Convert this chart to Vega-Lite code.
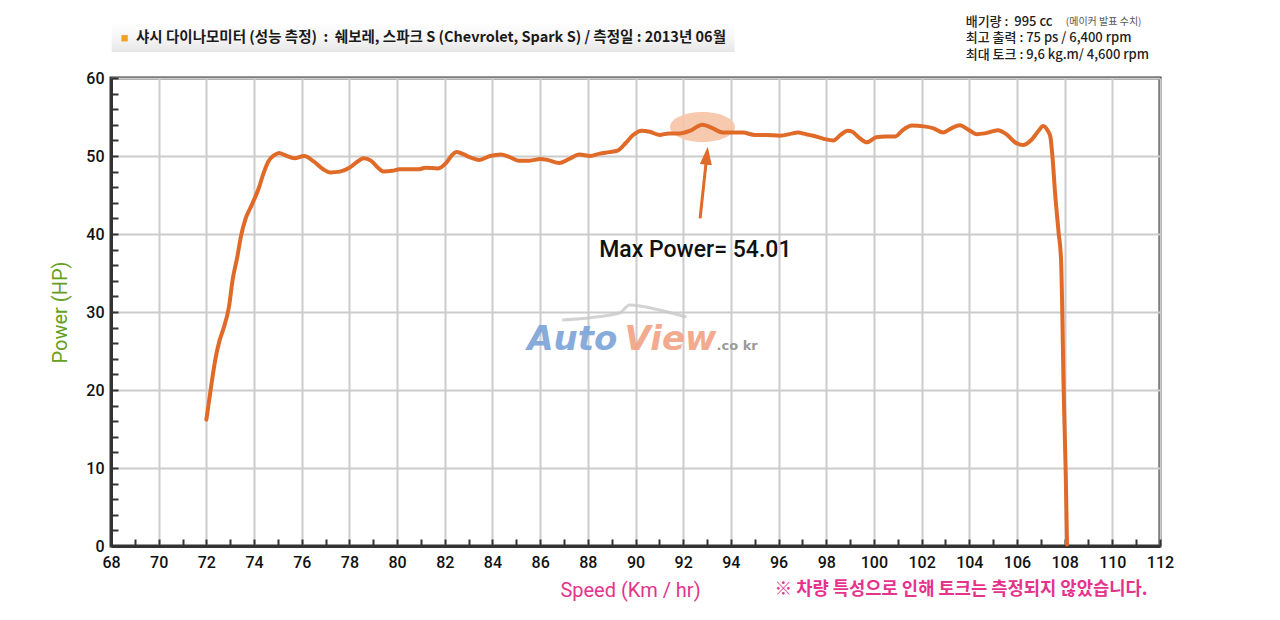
{
  "$schema": "https://vega.github.io/schema/vega-lite/v6.json",
  "width": 1049,
  "height": 468,
  "autosize": "none",
  "padding": {"left": 111, "top": 78, "right": 120, "bottom": 74},
  "background": "white",
  "config": {"view": {"stroke": "#333333", "strokeWidth": 3}, "font": "Roboto"},
  "encoding": {
    "x": {
      "field": "x", "type": "quantitative",
      "scale": {"domain": [68, 112], "nice": false, "zero": false},
      "axis": {
        "values": [68,68.5,69,69.5,70,70.5,71,71.5,72,72.5,73,73.5,74,74.5,75,75.5,76,76.5,77,77.5,78,78.5,79,79.5,80,80.5,81,81.5,82,82.5,83,83.5,84,84.5,85,85.5,86,86.5,87,87.5,88,88.5,89,89.5,90,90.5,91,91.5,92,92.5,93,93.5,94,94.5,95,95.5,96,96.5,97,97.5,98,98.5,99,99.5,100,100.5,101,101.5,102,102.5,103,103.5,104,104.5,105,105.5,106,106.5,107,107.5,108,108.5,109,109.5,110,110.5,111,111.5,112],
        "format": "d",
        "labelExpr": "datum.value % 2 === 0 ? datum.label : ''",
        "labelOverlap": false, "labelFlush": false,
        "labelFont": "Roboto", "labelFontSize": 16, "labelFontWeight": 500, "labelColor": "#111111", "labelPadding": 15,
        "grid": true, "gridColor": "#cccccc", "gridWidth": 2,
        "gridOpacity": {"condition": {"test": "datum.value % 2 === 0", "value": 1}, "value": 0},
        "ticks": true, "tickColor": "#333333", "tickWidth": 2, "tickSize": -7,
        "domainColor": "#333333", "domainWidth": 3,
        "title": "Speed (Km / hr)", "titleColor": "#e5338c", "titleFont": "Roboto", "titleFontSize": 20, "titleFontWeight": "normal",
        "titleX": 519, "titleY": 44, "titleBaseline": "middle", "titleAlign": "center"
      }
    },
    "y": {
      "field": "y", "type": "quantitative",
      "scale": {"domain": [0, 60], "nice": false, "zero": false},
      "axis": {
        "values": [0,2,4,6,8,10,12,14,16,18,20,22,24,26,28,30,32,34,36,38,40,42,44,46,48,50,52,54,56,58,60],
        "format": "d",
        "labelExpr": "datum.value % 10 === 0 ? datum.label : ''",
        "labelOverlap": false, "labelFlush": false,
        "labelFont": "Roboto", "labelFontSize": 16, "labelFontWeight": 500, "labelColor": "#111111", "labelPadding": 14,
        "grid": true, "gridColor": "#cccccc", "gridWidth": 2,
        "gridOpacity": {"condition": {"test": "datum.value % 10 === 0", "value": 1}, "value": 0},
        "ticks": true, "tickColor": "#333333", "tickWidth": 2, "tickSize": -7,
        "domainColor": "#333333", "domainWidth": 3,
        "title": "Power (HP)", "titleColor": "#66a022", "titleFont": "Roboto", "titleFontSize": 20, "titleFontWeight": "normal",
        "titleX": -51, "titleY": 234, "titleBaseline": "middle", "titleAlign": "center", "titleAngle": -90
      }
    }
  },
  "layer": [
    {
      "data": {"values": [{"x": 68.03, "x2": 94.15, "y": 67.05, "y2": 63.33}]},
      "mark": {"type": "rect", "color": {"gradient": "linear", "x1": 0, "y1": 0, "x2": 0, "y2": 1, "stops": [{"offset": 0, "color": "#ffffff"}, {"offset": 0.5, "color": "#f6f6f6"}, {"offset": 1, "color": "#e6e6e6"}]}},
      "encoding": {"x2": {"field": "x2"}, "y2": {"field": "y2"}}
    },
    {
      "data": {"values": [{"x": 68.57, "y": 65.09}]},
      "mark": {"type": "point", "shape": "square", "size": 40, "filled": true, "color": "#f0a01e", "opacity": 1}
    },
    {
      "data": {"values": [{"x": 69.05, "y": 65.09, "label": "샤시 다이나모미터 (성능 측정)\u00a0 : \u00a0쉐보레, 스파크 S (Chevrolet, Spark S) / 측정일 : 2013년 06월"}]},
      "mark": {"type": "text", "align": "left", "baseline": "middle", "font": "Noto Sans CJK KR", "fontSize": 14.5, "fontWeight": "bold", "color": "#1a1a1a"},
      "encoding": {"text": {"field": "label"}}
    },
    {
      "data": {"values": [{"x": 86.93, "y": 28.97}, {"x": 89.33, "y": 29.87}, {"x": 89.75, "y": 30.9}, {"x": 91.01, "y": 30.26}, {"x": 92.14, "y": 29.36}]},
      "mark": {"type": "line", "color": "#c8c8c8", "strokeWidth": 3, "opacity": 0.8, "interpolate": "monotone"}
    },
    {
      "data": {"values": [{"x": 85.46, "y": 25.13, "label": "Auto"}]},
      "mark": {"type": "text", "align": "left", "baseline": "alphabetic", "font": "DejaVu Sans", "fontSize": 34, "fontWeight": "bold", "fontStyle": "italic", "color": "#7ba4d8", "opacity": 0.9},
      "encoding": {"text": {"field": "label"}}
    },
    {
      "data": {"values": [{"x": 89.54, "y": 25.13, "label": "View"}]},
      "mark": {"type": "text", "align": "left", "baseline": "alphabetic", "font": "DejaVu Sans", "fontSize": 34, "fontWeight": "bold", "fontStyle": "italic", "color": "#f2a283", "opacity": 0.9},
      "encoding": {"text": {"field": "label"}}
    },
    {
      "data": {"values": [{"x": 93.4, "y": 25.13, "label": ".co kr"}]},
      "mark": {"type": "text", "align": "left", "baseline": "alphabetic", "font": "DejaVu Sans", "fontSize": 13, "fontWeight": "bold", "color": "#9a9a9a"},
      "encoding": {"text": {"field": "label"}}
    },
    {
      "data": {"values": [{"x": 92.81, "y": 53.72}]},
      "mark": {"type": "point", "shape": "M -1 0 A 1 0.46 0 1 1 1 0 A 1 0.46 0 1 1 -1 0 Z", "size": 4225, "filled": true, "color": "#f6c4a6", "opacity": 0.9}
    },
    {
      "data": {"name": "power", "values": [
        {"x": 72.0, "y": 16.2}, {"x": 72.1, "y": 18.3}, {"x": 72.25, "y": 21.5}, {"x": 72.4, "y": 24.3}, {"x": 72.55, "y": 26.3},
        {"x": 72.7, "y": 27.7}, {"x": 72.95, "y": 30.7}, {"x": 73.1, "y": 34.1}, {"x": 73.3, "y": 37.1}, {"x": 73.45, "y": 39.7},
        {"x": 73.65, "y": 42.0}, {"x": 73.9, "y": 43.7}, {"x": 74.2, "y": 45.9}, {"x": 74.4, "y": 47.8}, {"x": 74.6, "y": 49.3},
        {"x": 74.85, "y": 50.1}, {"x": 75.05, "y": 50.4}, {"x": 75.3, "y": 50.1}, {"x": 75.7, "y": 49.7}, {"x": 76.1, "y": 50.0},
        {"x": 76.5, "y": 49.3}, {"x": 76.9, "y": 48.3}, {"x": 77.2, "y": 47.9}, {"x": 77.6, "y": 48.0}, {"x": 78.0, "y": 48.5},
        {"x": 78.35, "y": 49.3}, {"x": 78.6, "y": 49.7}, {"x": 78.9, "y": 49.4}, {"x": 79.2, "y": 48.5}, {"x": 79.45, "y": 48.0},
        {"x": 79.8, "y": 48.1}, {"x": 80.1, "y": 48.3}, {"x": 80.5, "y": 48.3}, {"x": 80.9, "y": 48.3}, {"x": 81.2, "y": 48.5},
        {"x": 81.7, "y": 48.4}, {"x": 82.05, "y": 49.1}, {"x": 82.3, "y": 50.1}, {"x": 82.5, "y": 50.5}, {"x": 82.8, "y": 50.2},
        {"x": 83.0, "y": 49.9}, {"x": 83.45, "y": 49.5}, {"x": 83.9, "y": 50.0}, {"x": 84.35, "y": 50.2}, {"x": 84.7, "y": 49.9},
        {"x": 85.1, "y": 49.4}, {"x": 85.55, "y": 49.4}, {"x": 86.0, "y": 49.6}, {"x": 86.3, "y": 49.5}, {"x": 86.8, "y": 49.1},
        {"x": 87.2, "y": 49.6}, {"x": 87.65, "y": 50.2}, {"x": 88.1, "y": 50.0}, {"x": 88.5, "y": 50.3}, {"x": 88.9, "y": 50.5},
        {"x": 89.25, "y": 50.7}, {"x": 89.6, "y": 51.7}, {"x": 89.9, "y": 52.7}, {"x": 90.25, "y": 53.25}, {"x": 90.6, "y": 53.1},
        {"x": 91.0, "y": 52.7}, {"x": 91.4, "y": 52.9}, {"x": 91.85, "y": 52.9}, {"x": 92.3, "y": 53.25}, {"x": 92.8, "y": 54.01},
        {"x": 93.25, "y": 53.55}, {"x": 93.65, "y": 53.0}, {"x": 94.1, "y": 53.0}, {"x": 94.5, "y": 53.0}, {"x": 95.0, "y": 52.7},
        {"x": 95.5, "y": 52.7}, {"x": 96.05, "y": 52.6}, {"x": 96.6, "y": 52.9}, {"x": 96.8, "y": 53.0}, {"x": 97.15, "y": 52.8},
        {"x": 97.45, "y": 52.6}, {"x": 97.9, "y": 52.2}, {"x": 98.3, "y": 52.0}, {"x": 98.6, "y": 52.7}, {"x": 98.9, "y": 53.25},
        {"x": 99.1, "y": 53.1}, {"x": 99.4, "y": 52.3}, {"x": 99.7, "y": 51.75}, {"x": 100.1, "y": 52.4}, {"x": 100.5, "y": 52.5},
        {"x": 100.9, "y": 52.5}, {"x": 101.2, "y": 53.3}, {"x": 101.6, "y": 53.9}, {"x": 102.1, "y": 53.8}, {"x": 102.5, "y": 53.55},
        {"x": 102.9, "y": 53.0}, {"x": 103.25, "y": 53.55}, {"x": 103.6, "y": 53.95}, {"x": 103.95, "y": 53.4}, {"x": 104.3, "y": 52.8},
        {"x": 104.65, "y": 52.9}, {"x": 105.2, "y": 53.3}, {"x": 105.55, "y": 52.8}, {"x": 105.9, "y": 51.8}, {"x": 106.25, "y": 51.4},
        {"x": 106.6, "y": 52.05}, {"x": 106.9, "y": 53.2}, {"x": 107.1, "y": 53.85}, {"x": 107.3, "y": 53.2}, {"x": 107.4, "y": 52.5},
        {"x": 107.5, "y": 49.5}, {"x": 107.6, "y": 45.2}, {"x": 107.75, "y": 40.1}, {"x": 107.85, "y": 36.7}, {"x": 107.9, "y": 30.3},
        {"x": 107.95, "y": 21.3}, {"x": 108.0, "y": 14.9}, {"x": 108.05, "y": 8.7}, {"x": 108.1, "y": 0.2}
      ]},
      "mark": {"type": "line", "color": "#e06a28", "strokeWidth": 4, "strokeCap": "round", "strokeJoin": "round", "interpolate": "monotone"}
    },
    {
      "data": {"values": [{"x": 92.71, "y": 42.0, "x2": 92.96, "y2": 49.15}]},
      "mark": {"type": "rule", "color": "#e06a28", "strokeWidth": 3},
      "encoding": {"x2": {"field": "x2"}, "y2": {"field": "y2"}}
    },
    {
      "data": {"values": [{"x": 93.03, "y": 51.2}]},
      "mark": {"type": "point", "shape": "M 0 0 L 0.6 1.8 L -0.6 1.8 Z", "size": 400, "angle": 6, "filled": true, "color": "#e06a28", "opacity": 1}
    },
    {
      "data": {"values": [{"x": 92.51, "y": 37.09, "label": "Max Power= 54.01"}]},
      "mark": {"type": "text", "align": "center", "baseline": "alphabetic", "font": "Roboto", "fontSize": 23, "fontWeight": 500, "color": "#111111"},
      "encoding": {"text": {"field": "label"}}
    },
    {
      "data": {"values": [
        {"x": 103.85, "y": 67.22, "label": "배기량 :\u00a0 995 cc"},
        {"x": 103.85, "y": 65.09, "label": "최고 출력 : 75 ps / 6,400 rpm"},
        {"x": 103.85, "y": 62.95, "label": "최대 토크 : 9,6 kg.m/ 4,600 rpm"}
      ]},
      "mark": {"type": "text", "align": "left", "baseline": "middle", "font": "Noto Sans CJK KR", "fontSize": 13, "fontWeight": 500, "color": "#222222"},
      "encoding": {"text": {"field": "label"}}
    },
    {
      "data": {"values": [{"x": 108.05, "y": 67.22, "label": "(메이커 발표 수치)"}]},
      "mark": {"type": "text", "align": "left", "baseline": "middle", "font": "Noto Sans CJK KR", "fontSize": 10, "color": "#555555"},
      "encoding": {"text": {"field": "label"}}
    },
    {
      "data": {"values": [{"x": 95.83, "y": -5.64, "label": "※ 차량 특성으로 인해 토크는 측정되지 않았습니다."}]},
      "mark": {"type": "text", "align": "left", "baseline": "middle", "font": "Noto Sans CJK KR", "fontSize": 17.7, "fontWeight": "bold", "color": "#e5338c"},
      "encoding": {"text": {"field": "label"}}
    }
  ]
}
